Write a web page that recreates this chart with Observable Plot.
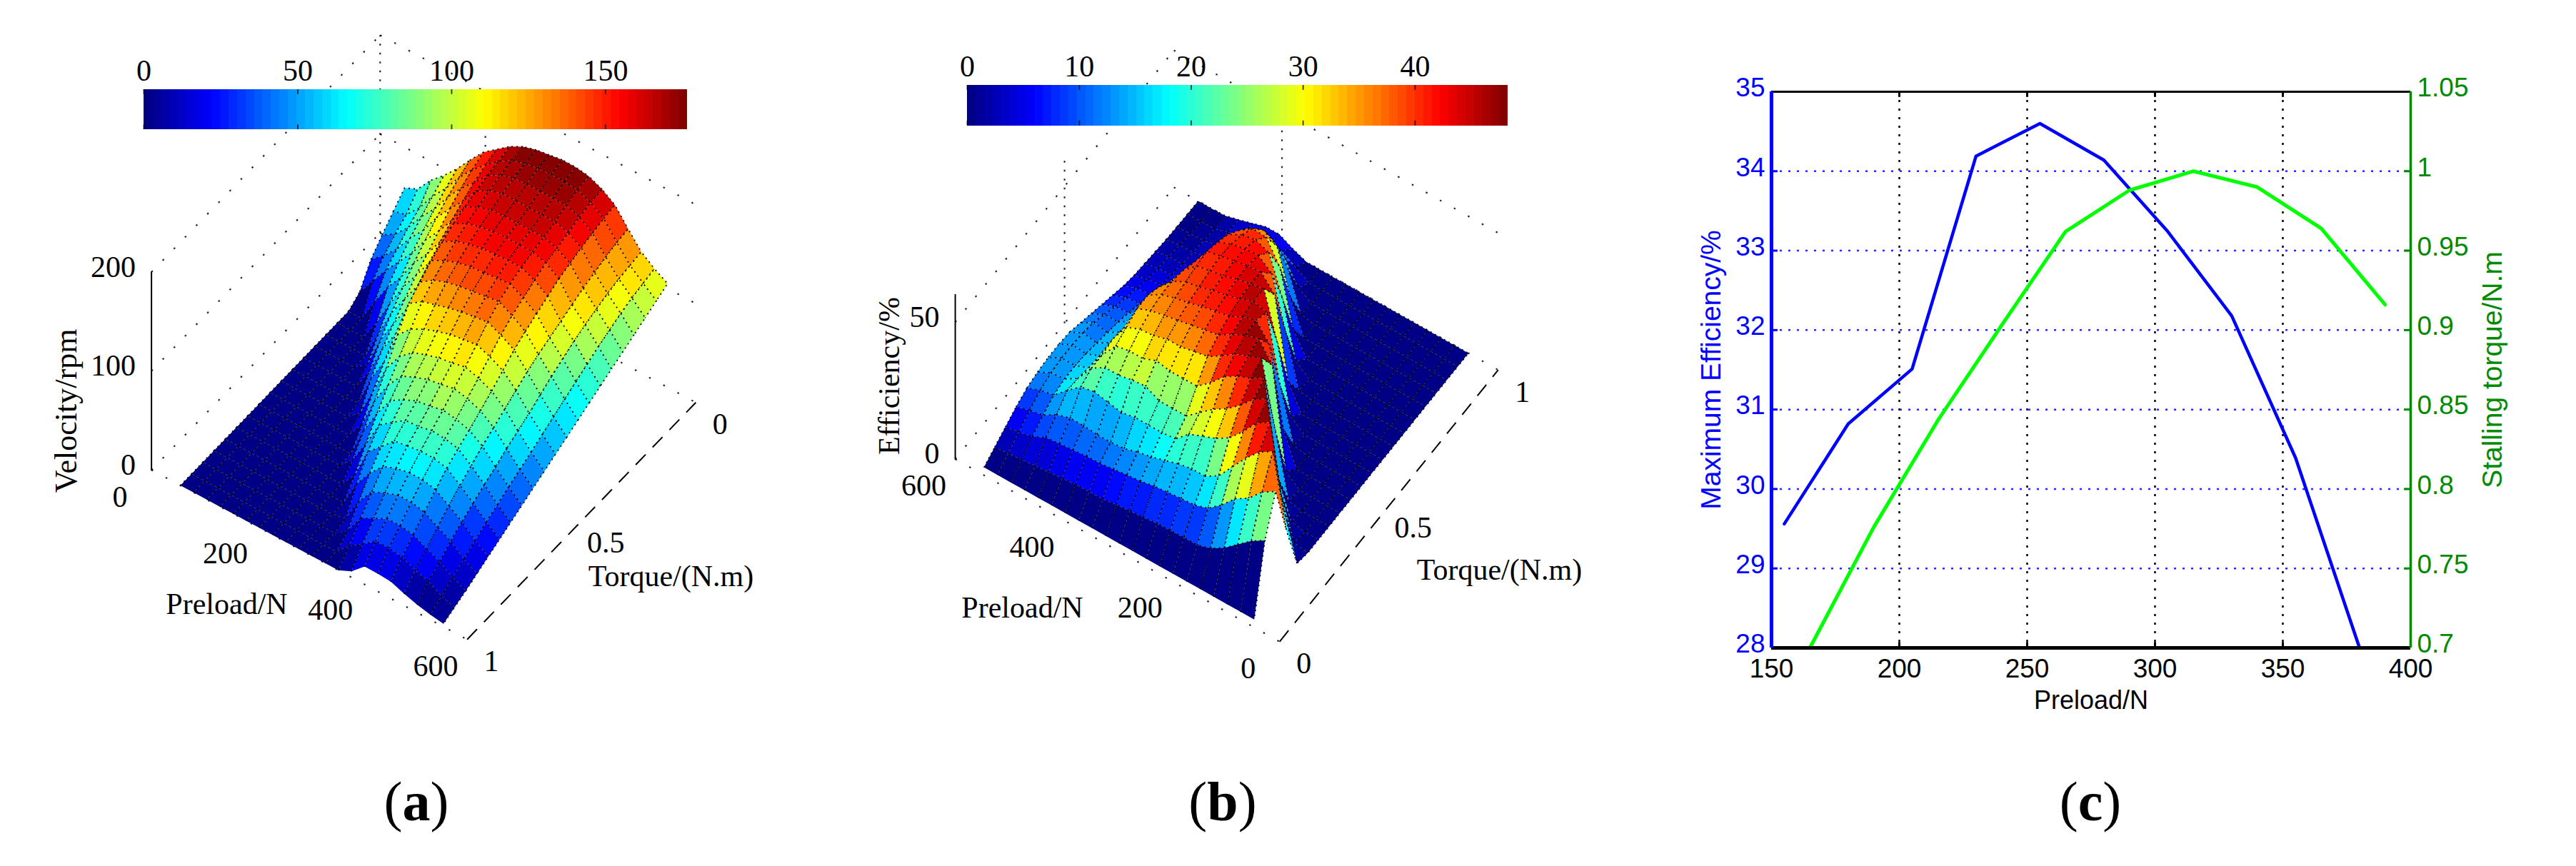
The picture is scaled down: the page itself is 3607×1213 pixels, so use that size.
<!DOCTYPE html>
<html><head><meta charset="utf-8">
<script src="https://cdn.jsdelivr.net/npm/d3@7"></script>
<script src="https://cdn.jsdelivr.net/npm/@observablehq/plot@0.6"></script>
<style>
body{margin:0;background:#fff}
#page{position:relative;width:3607px;height:1213px;overflow:hidden;background:#fff}
.cap{position:absolute;top:1078px;width:200px;text-align:center;font:78px "Liberation Serif",serif;color:#000}
</style></head><body><div id="page"></div>
<script>
// ---------- data ----------
const preloadGrid = [55,80,105,130,155,180,205,230,255,280,305,330,355,380,405,430,455,480,505,530,555];
const torqueGrid = [0.02,0.069,0.118,0.167,0.216,0.265,0.314,0.363,0.412,0.461,0.51,0.559,0.608,0.657,0.706,0.755,0.804,0.853,0.902,0.951,1.0];
// one row per preload, one value per torque; a row that stops early stays at 0 to the end
const velocity = [
[66,54,42,29,8,0],
[72,58,50,40,26,0],
[88,72,64,54,44,24,0],
[100,91,82,72,60,46,22,0],
[114,106,97,87,76,63,48,30,10,0],
[130,124,116,107,96,85,72,58,42,22,2,0],
[145,139,132,123,112,101,91,79,66,52,34,10,0],
[155,151,145,138,130,121,111,100,88,74,58,40,18,0],
[165,162,159,155,151,146,139,132,122,112,92,70,50,31,13,0],
[172,170,167,163,158,153,147,139,131,121,105,89,72,55,36,16,0],
[176,174,171,167,162,157,151,144,136,125,112,100,88,75,62,47,26,3,0],
[178,176,172,167,163,159,154,147,139,129,117,105,94,83,72,59,44,27,9,0],
[180,177,172,167,163,160,155,148,141,132,121,109,99,89,81,72,58,44,29,13,0],
[180,177,172,167,163,160,156,150,143,134,123,111,101,91,82,74,63,50,36,22,6],
[178,176,172,167,163,160,156,151,145,136,125,114,104,94,85,76,66,55,43,32,18],
[172,170,167,163,159,156,150,144,138,130,120,110,101,92,84,76,66,55,43,32,18],
[163,161,158,155,151,147,141,135,129,122,113,104,96,88,81,73,63,52,41,30,17],
[146,144,141,137,133,128,123,118,113,107,100,93,86,79,71,63,54,44,34,24,12],
[130,128,126,123,119,115,110,104,98,91,84,78,72,65,59,52,45,37,28,20,8],
[120,117,114,110,105,100,94,88,82,76,70,64,58,52,46,40,33,26,19,12,5],
[112,106.5,101,95.5,90,84.5,79,73.5,68,62.5,57,51.5,46,40.5,35,29.5,24,18.5,13,8,3]
];
const efficiency = [
[0,24,37,18,1,0],
[0,21,34,44,18,1,0],
[0,17,29,41,47,16,1,0],
[0,13,26,36,44,48,14,1,0],
[0,10,21,30,38,45,48,24,4,0],
[0,8.4,17,24,33,40,45,47.5,40,12,1,0],
[0,8.4,15.4,21,30,36,43,45.5,47,40,20,4,0],
[0,8.2,15,21,28,33,40,43.5,45.5,46,44,28,9,1,0],
[0,8,14.5,20,26,29,35,40,43,44.5,45.5,45,38,20,4,0],
[0,7.5,14,18.5,21.5,25,31,37,40,42,43.5,44,43.5,38,24,8,0],
[0,7,13,17,21,25,31,36,39,41,42,43,43,42,38,28,12,1,0],
[0,6.5,12.5,16,21,25,31,35,38,40,41,41.5,42,41.5,40,36,28,15,3,0],
[0,5.8,11.8,14.5,21,27.5,32,35,37,38.5,39.5,40.5,41,40.5,39,36.5,31,22,11,3,0],
[0,5.7,11.2,14,20,27,30,33.5,36,37.5,38.5,39.5,40,38.5,36.5,33,29,22,13,6,2],
[0,5.5,11,14,21,26,30,33,35,36,36,35,33,30,25,19,13,9,6.5,5,4.5],
[0,5,10.5,14.5,22,26,29,31,33,33,31,28,24,19,13,9,6.5,5.5,5,4.5,4.5],
[0,4.5,10,14.5,21,23,23,24,23,22,20,17,13,9,6,4.5,3.8,3.5,3.3,3.1,3],
[0,4,9.5,13,17,16.5,15.5,15,15,14,13,11,9,7,5,4,3,2.5,2.1,1.8,1.5],
[0,3.5,7,10,12.5,13.5,13.5,13,12,11,10,8.5,7,5.5,4,3,2,1.5,0.8,0.3,0.2],
[0,3,6,9,11.5,13,13.5,13.5,13,12,10,8,6.5,5,3.5,2.5,2,1.2,0.6,0.2,0],
[0,2.5,5,7.5,9.5,10.5,11,11,10.5,9,7.5,6,4.5,3,2,1.5,1,0.5,0.3,0.1,0]
];
const velocityMax = 176.6, efficiencyMax = 48.3;
const velocityBarTicks = [0,50,100,150], efficiencyBarTicks = [0,10,20,30,40];
const preloadTicks = [0,200,400,600], torqueTicks = [0,0.5,1];
const velocityTicks = [0,100,200], efficiencyTicks = [0,50];

const linePreload = [155,180,205,230,255,280,305,330,355,380];
const maxEfficiency = [29.56,30.82,31.51,34.19,34.6,34.14,33.24,32.18,30.39,28];
const stallPreload = [165,190,215,240,265,290,315,340,365,390];
const stallTorque = [0.7,0.776,0.843,0.903,0.962,0.988,1.0,0.99,0.964,0.916];
const preloadAxis = [150,200,250,300,350,400];
const efficiencyAxis = [28,29,30,31,32,33,34,35];
const stallAxis = [0.7,0.75,0.8,0.85,0.9,0.95,1,1.05];

// ---------- helpers ----------
const page = document.getElementById("page");
const SERIF = "Liberation Serif", SANS = "Liberation Sans";
const clamp01 = v => Math.max(0, Math.min(1, v));
function jet(n){ // the MATLAB jet map as n steps
  return d3.range(n).map(i=>{
    const v=(i+0.5)/n;
    const ch=c=>Math.round(255*clamp01(1.5-Math.abs(4*v-c)));
    return `rgb(${ch(3)},${ch(2)},${ch(1)})`;
  });
}
const jetColors = jet(64);
const colorScale = max => ({type:"threshold", domain:d3.range(1,64).map(i=>i*max/64), range:jetColors});
const boxStyle = (l,t)=>`position:absolute;left:${l}px;top:${t}px;background:transparent;max-width:none;overflow:visible`;

function cells(values, view){
  const out=[]; const n=preloadGrid.length-1, m=torqueGrid.length-1;
  const val=(i,j)=>values[i][j]??0;
  const pt=(id,i,j,c)=>{const q=view.project(preloadGrid[i],torqueGrid[j],val(i,j));out.push({cell:id,x:q[0],y:q[1],v:c});};
  const is=d3.range(n), js=d3.range(m);
  if(view.farLowPreload){
    for(const i of is) for(const j of js){
      const id=i*100+j, c=val(i+1,j+1);
      pt(id,i,j+1,c);pt(id,i,j,c);pt(id,i+1,j,c);pt(id,i+1,j+1,c);
    }
  } else {
    for(const i of is.slice().reverse()) for(const j of js.slice().reverse()){
      const id=i*100+j, c=val(i,j);
      pt(id,i+1,j,c);pt(id,i+1,j+1,c);pt(id,i,j+1,c);pt(id,i,j,c);
    }
  }
  return out;
}
function segs(list, view){
  return list.flatMap((s,k)=>s.map(p=>{const q=view.project(...p);return {k,x:q[0],y:q[1]};}));
}
function colorbar(max,ticks,barLeft,barTop,barW,barH){
  const margin=40, top=70;
  const levels=d3.range(64).map(i=>({lo:i*max/64,hi:(i+1)*max/64,mid:(i+0.5)*max/64}));
  const svg=Plot.plot({
    width:barW+2*margin,height:barH+top+2,marginLeft:margin,marginRight:margin,marginTop:top,marginBottom:2,
    style:boxStyle(barLeft-margin,barTop-top),
    x:{domain:[0,max],axis:null},y:{domain:[0,1],axis:null},color:colorScale(max),
    marks:[
      Plot.rect(levels,{x1:"lo",x2:"hi",y1:0,y2:1,fill:"mid",shapeRendering:"crispEdges"}),
      Plot.ruleX(ticks,{y1:0,y2:0.12,stroke:"#000",strokeWidth:2,strokeOpacity:0.7}),
      Plot.ruleX(ticks,{y1:0.88,y2:1,stroke:"#000",strokeWidth:2,strokeOpacity:0.7}),
      Plot.text(ticks,{x:d=>d,y:1,dy:-26,text:d=>String(d),fontFamily:SERIF,fontSize:42,fill:"#000"})
    ]});
  page.appendChild(svg);
}
function surface(cfg){
  const {view,values,max,W,H,left}=cfg;
  const lab=(data,o)=>Plot.text(data,{fontFamily:SERIF,fontSize:42,fill:"#000",...o});
  const P=(p,t,z,i)=>view.project(p,t,z)[i];
  const svg=Plot.plot({
    width:W,height:H,margin:0,style:boxStyle(left,0),
    x:{domain:[0,W],range:[0,W],axis:null},y:{domain:[0,H],range:[0,H],axis:null},
    color:colorScale(max),
    marks:[
      Plot.line(segs(cfg.wallsSteep,view),{x:"x",y:"y",z:"k",stroke:"#000",strokeWidth:2.2,strokeDasharray:"2.5,10",strokeLinecap:"butt",strokeOpacity:0.85}),
      Plot.line(segs(cfg.walls,view),{x:"x",y:"y",z:"k",stroke:"#000",strokeWidth:2.2,strokeDasharray:"2.5,20",strokeLinecap:"butt",strokeOpacity:0.85}),
      Plot.line(segs(cfg.axisDashed,view),{x:"x",y:"y",z:"k",stroke:"#000",strokeWidth:2,strokeDasharray:"20,14",strokeLinecap:"butt"}),
      Plot.line(segs(cfg.axisSolid,view),{x:"x",y:"y",z:"k",stroke:"#000",strokeWidth:2}),
      Plot.line(cells(values,view),{x:"x",y:"y",z:"cell",fill:"v",stroke:"#000",strokeWidth:1.8,strokeDasharray:"2,5",strokeLinecap:"butt",strokeLinejoin:"miter"}),
      lab(preloadTicks,{x:d=>P(d,cfg.preloadLabelTorque,0,0),y:d=>P(d,cfg.preloadLabelTorque,0,1),text:d=>String(d),dx:-44,dy:38}),
      lab(torqueTicks,{x:d=>P(cfg.torqueLabelPreload,d,0,0),y:d=>P(cfg.torqueLabelPreload,d,0,1),text:d=>String(d),dx:cfg.torqueDx,dy:31}),
      lab(cfg.zTicks,{x:d=>P(cfg.zPreload,cfg.zTorque,d,0),y:d=>P(cfg.zPreload,cfg.zTorque,d,1),text:d=>String(d),textAnchor:"end",dx:-22,dy:-7}),
      ...cfg.titles.map(t=>lab([t.text],{x:()=>t.x,y:()=>t.y,text:d=>d,rotate:t.rotate||0,fontSize:t.size||42}))
    ]});
  page.appendChild(svg);
}

// ---------- panel (a) ----------
const viewA={farLowPreload:true,project:(p,t,z)=>[531.8+p*442/600-t*320.2, 325.8+p*237.5/600+t*331.9-z*1.3855]};
surface({view:viewA,values:velocity,max:velocityMax,W:1180,H:1000,left:0,
  walls:[
    [[0,1,0],[0,0,0]],[[0,1,100],[0,0,100]],[[0,1,200],[0,0,200]],
    [[0,0,0],[600,0,0]],[[0,0,100],[600,0,100]],[[0,0,200],[600,0,200]],
    [[0,1,0],[600,1,0]]],
  wallsSteep:[[[0,0,0],[0,0,200]],[[200,0,0],[200,0,200]]],
  axisDashed:[[[600,1,0],[600,0,0]]],
  axisSolid:[[[0,1,0],[0,1,200]]],
  preloadLabelTorque:1,torqueLabelPreload:600,torqueDx:34,zTicks:velocityTicks,zPreload:0,zTorque:1,
  titles:[{text:"Preload/N",x:317,y:846},{text:"Torque/(N.m)",x:939,y:807},{text:"Velocity/rpm",x:92,y:575,rotate:-90,size:44}]
});
colorbar(velocityMax,velocityBarTicks,200.8,125,761,56);

// ---------- panel (b) ----------
const viewB={farLowPreload:false,project:(p,t,z)=>[611.2-p*454.1/600+t*306.1, 898.3-p*255.8/600-t*380.6-z*3.837]};
surface({view:viewB,values:efficiency,max:efficiencyMax,W:1140,H:1000,left:1180,
  walls:[
    [[600,0,0],[600,1,0]],[[600,0,50],[600,1,50]],
    [[600,1,0],[0,1,0]],[[600,1,50],[0,1,50]],
    [[600,0,0],[0,0,0]]],
  wallsSteep:[[[600,0.5,0],[600,0.5,60]],[[400,1,0],[400,1,60]]],
  axisDashed:[[[0,0,0],[0,1,0]]],
  axisSolid:[[[600,0,0],[600,0,60]]],
  preloadLabelTorque:0,torqueLabelPreload:0,torqueDx:34,zTicks:efficiencyTicks,zPreload:600,zTorque:0,
  titles:[{text:"Preload/N",x:251,y:851},{text:"Torque/(N.m)",x:919,y:798},{text:"Efficiency/%",x:65,y:526,rotate:-90,size:42}]
});
colorbar(efficiencyMax,efficiencyBarTicks,1353.8,118.8,757,56.6);

// ---------- panel (c) ----------
const torqueToEfficiency = t => 28 + (t - 0.7) * 20;
const BLUE="#0000ff", DGREEN="#008a00", LGREEN="#00ff00";
const fmtStall = d3.format("~g");
const blueLine = linePreload.map((x,i)=>({x,y:maxEfficiency[i]}));
const greenLine = stallPreload.map((x,i)=>({x,y:torqueToEfficiency(stallTorque[i])}));
const stallPositions = stallAxis.map(torqueToEfficiency);
const cAxis={fontFamily:SANS,fontSize:37,tickSize:0,label:null};
page.appendChild(Plot.plot({
  width:1287,height:1000,marginLeft:160,marginRight:232,marginTop:128,marginBottom:93,
  style:boxStyle(2320,0),
  x:{domain:[150,400],axis:null},y:{domain:[28,35],axis:null},
  marks:[
    Plot.ruleY(efficiencyAxis.slice(1,-1),{stroke:"#2a2aff",strokeWidth:2.5,strokeDasharray:"3,9"}),
    Plot.ruleX(preloadAxis.slice(1,-1),{stroke:"#000",strokeWidth:2.5,strokeDasharray:"3,9"}),
    Plot.line(blueLine,{x:"x",y:"y",stroke:BLUE,strokeWidth:4.5}),
    Plot.line(greenLine,{x:"x",y:"y",stroke:LGREEN,strokeWidth:5}),
    Plot.ruleY(efficiencyAxis,{x1:150,x2:152.5,stroke:BLUE,strokeWidth:3}),
    Plot.ruleY(stallPositions,{x1:397.5,x2:400,stroke:DGREEN,strokeWidth:3}),
    Plot.ruleX(preloadAxis,{y1:28,y2:28.07,stroke:"#000",strokeWidth:3}),
    Plot.ruleX(preloadAxis,{y1:34.93,y2:35,stroke:"#000",strokeWidth:3}),
    Plot.ruleY([35],{stroke:"#000",strokeWidth:3}),
    Plot.ruleY([28],{stroke:"#000",strokeWidth:5}),
    Plot.ruleX([150],{stroke:BLUE,strokeWidth:5}),
    Plot.ruleX([400],{stroke:DGREEN,strokeWidth:3.5}),
    Plot.axisX({...cAxis,ticks:preloadAxis,tickFormat:d3.format("d"),tickPadding:15,color:"#000"}),
    Plot.axisY({...cAxis,anchor:"left",ticks:efficiencyAxis,tickFormat:d3.format("d"),tickPadding:9,color:BLUE,dy:-5}),
    Plot.axisY({...cAxis,anchor:"right",ticks:stallPositions,tickFormat:v=>fmtStall(+(0.7+(v-28)/20).toFixed(2)),tickPadding:9,color:DGREEN,dy:-5}),
    Plot.text(["Preload/N"],{x:()=>275,y:()=>28,dy:74,text:d=>d,fontFamily:SANS,fontSize:36,fill:"#000"}),
    Plot.text(["Maximum Efficiency/%"],{x:()=>150,y:()=>31.5,dx:-84,rotate:-90,text:d=>d,fontFamily:SANS,fontSize:39,fill:BLUE}),
    Plot.text(["Stalling torque/N.m"],{x:()=>400,y:()=>31.5,dx:115,rotate:-90,text:d=>d,fontFamily:SANS,fontSize:39,fill:DGREEN})
  ]}));

// ---------- captions ----------
[["a",583],["b",1712],["c",2927]].forEach(([k,x])=>{
  const d=document.createElement("div");d.className="cap";d.style.left=(x-100)+"px";
  d.innerHTML=`(<b>${k}</b>)`;page.appendChild(d);
});
</script></body></html>
